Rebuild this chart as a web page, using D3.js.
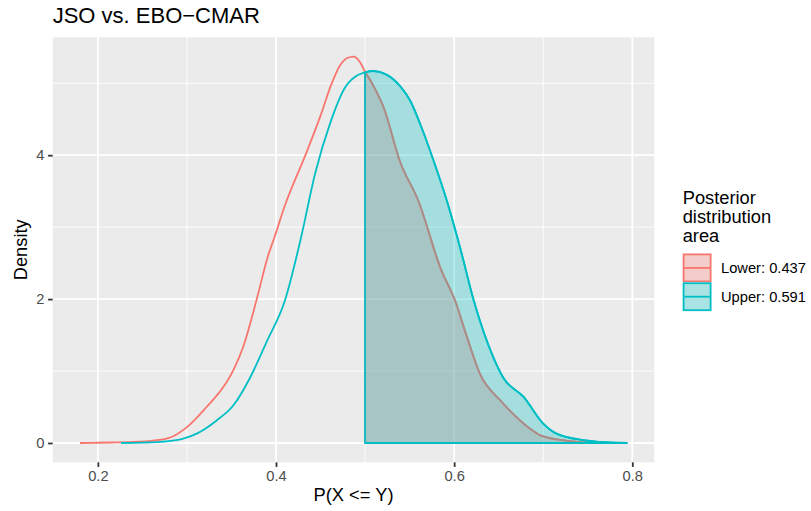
<!DOCTYPE html>
<html>
<head>
<meta charset="utf-8">
<script src="https://cdn.jsdelivr.net/npm/d3@7"></script>
<style>
  html, body { margin: 0; padding: 0; background: #ffffff; }
  svg { display: block; font-family: "Liberation Sans", Arial, Helvetica, sans-serif; }
</style>
</head>
<body>
<svg id="chart" width="811" height="511"></svg>
<script>
// ---- data ----
const titleText = "JSO vs. EBO\u2212CMAR";
const xLabel = "P(X <= Y)";
const yLabel = "Density";
const legendTitle = ["Posterior", "distribution", "area"];
const seriesNames = ["Lower: 0.437", "Upper: 0.591"];
const seriesColors = ["#F8766D", "#00BFC4"];
const threshold = 0.5;

const xLower = [0.180,0.200,0.220,0.240,0.260,0.280,0.300,0.322,0.341,0.352,0.363,0.378,0.391,0.398,0.410,0.433,0.450,0.462,0.472,0.480,0.487,0.494,0.500,0.510,0.521,0.539,0.560,0.585,0.601,0.615,0.629,0.652,0.670,0.685,0.697,0.727,0.760,0.794];
const yLower = [0,0.003,0.008,0.015,0.03,0.07,0.22,0.50,0.78,1.01,1.33,1.98,2.60,2.85,3.30,4.00,4.55,4.98,5.25,5.35,5.37,5.30,5.16,4.95,4.66,3.92,3.36,2.42,1.98,1.45,0.96,0.59,0.36,0.20,0.105,0.03,0.005,0];

const xUpper = [0.226,0.250,0.270,0.296,0.311,0.333,0.352,0.371,0.390,0.410,0.428,0.444,0.4615,0.477,0.490,0.500,0.509,0.524,0.540,0.551,0.562,0.577,0.592,0.607,0.622,0.644,0.655,0.678,0.700,0.715,0.745,0.770,0.794];
const yUpper = [0,0.005,0.015,0.06,0.13,0.31,0.52,0.91,1.42,1.98,2.85,3.75,4.47,4.93,5.10,5.15,5.17,5.12,4.95,4.75,4.43,3.92,3.36,2.70,1.98,1.19,0.91,0.64,0.27,0.13,0.04,0.01,0];

const xTicks = [0.2, 0.4, 0.6, 0.8];
const xMinor = [0.3, 0.5, 0.7];
const yTicks = [0, 2, 4];
const yMinor = [1, 3, 5];

// ---- layout ----
const svg = d3.select("#chart");
const panel = { left: 52.7, right: 654.3, top: 37.3, bottom: 462.3 };

const series = [
  { name: seriesNames[0], color: seriesColors[0], pts: xLower.map((x, i) => ({ x, y: yLower[i] })) },
  { name: seriesNames[1], color: seriesColors[1], pts: xUpper.map((x, i) => ({ x, y: yUpper[i] })) }
];

const allX = xLower.concat(xUpper), allY = yLower.concat(yUpper);
const [xmin, xmax] = d3.extent(allX);
const [ymin, ymax] = d3.extent(allY);
const xpad = (xmax - xmin) * 0.05, ypad = (ymax - ymin) * 0.05;
const x = d3.scaleLinear().domain([xmin - xpad, xmax + xpad]).range([panel.left, panel.right]);
const y = d3.scaleLinear().domain([ymin - ypad, ymax + ypad]).range([panel.bottom, panel.top]);

// panel background
svg.append("rect").attr("x", panel.left).attr("y", panel.top)
  .attr("width", panel.right - panel.left).attr("height", panel.bottom - panel.top)
  .attr("fill", "#EBEBEB");

const grid = svg.append("g");
grid.selectAll(".xminor").data(xMinor).enter().append("line")
  .attr("x1", d => x(d)).attr("x2", d => x(d)).attr("y1", panel.top).attr("y2", panel.bottom)
  .attr("stroke", "#fff").attr("stroke-width", 0.9);
grid.selectAll(".yminor").data(yMinor).enter().append("line")
  .attr("y1", d => y(d)).attr("y2", d => y(d)).attr("x1", panel.left).attr("x2", panel.right)
  .attr("stroke", "#fff").attr("stroke-width", 0.9);
grid.selectAll(".xmajor").data(xTicks).enter().append("line")
  .attr("x1", d => x(d)).attr("x2", d => x(d)).attr("y1", panel.top).attr("y2", panel.bottom)
  .attr("stroke", "#fff").attr("stroke-width", 1.8);
grid.selectAll(".ymajor").data(yTicks).enter().append("line")
  .attr("y1", d => y(d)).attr("y2", d => y(d)).attr("x1", panel.left).attr("x2", panel.right)
  .attr("stroke", "#fff").attr("stroke-width", 1.8);

// curves
const line = d3.line().x(d => x(d.x)).y(d => y(d.y)).curve(d3.curveMonotoneX);
const area = d3.area().x(d => x(d.x)).y0(y(0)).y1(d => y(d.y)).curve(d3.curveMonotoneX);

const plot = svg.append("g");
series.forEach(s => {
  plot.append("path").attr("d", line(s.pts))
    .attr("fill", "none").attr("stroke", s.color).attr("stroke-width", 1.8)
    .attr("stroke-linejoin", "round");
  const sub = s.pts.filter(p => p.x >= threshold);
  plot.append("path").attr("d", area(sub) )
    .attr("fill", s.color).attr("fill-opacity", 0.3)
    .attr("stroke", s.color).attr("stroke-width", 1.8).attr("stroke-linejoin", "round");
});

// axes
const axisColor = "#333333", tickText = "#4D4D4D";
const xAxis = d3.axisBottom(x).tickValues(xTicks).tickFormat(d3.format(".1f")).tickSizeOuter(0).tickSizeInner(4.6).tickPadding(3.2);
const gx = svg.append("g").attr("transform", `translate(0,${panel.bottom})`).call(xAxis);
gx.select(".domain").remove();
gx.selectAll(".tick line").attr("stroke", axisColor).attr("stroke-width", 1.8);
gx.selectAll(".tick text").attr("fill", tickText).attr("font-size", "14.7px")
  .attr("font-family", "Liberation Sans, Arial, sans-serif");

const yAxis = d3.axisLeft(y).tickValues(yTicks).tickFormat(d3.format("d")).tickSizeOuter(0).tickSizeInner(4.6).tickPadding(3.6);
const gy = svg.append("g").attr("transform", `translate(${panel.left},0)`).call(yAxis);
gy.select(".domain").remove();
gy.selectAll(".tick line").attr("stroke", axisColor).attr("stroke-width", 1.8);
gy.selectAll(".tick text").attr("fill", tickText).attr("font-size", "14.7px")
  .attr("font-family", "Liberation Sans, Arial, sans-serif");

// titles
svg.append("text").attr("x", panel.left).attr("y", 22.7)
  .attr("font-size", "22px").attr("fill", "#000").text(titleText);
svg.append("text").attr("x", (panel.left + panel.right) / 2).attr("y", 501)
  .attr("text-anchor", "middle").attr("font-size", "18.3px").attr("fill", "#000").text(xLabel);
svg.append("text").attr("transform", `translate(27,${(panel.top + panel.bottom) / 2}) rotate(-90)`)
  .attr("text-anchor", "middle").attr("font-size", "18.3px").attr("fill", "#000").text(yLabel);

// legend
const lg = svg.append("g");
const lgX = 682.7, titleBase = [203.5, 222.8, 242];
legendTitle.forEach((t, i) => {
  lg.append("text").attr("x", lgX).attr("y", titleBase[i]).attr("font-size", "18.3px").attr("fill", "#000").text(t);
});
const keySize = 28.8, keyTop = 253.5;
series.forEach((s, i) => {
  const ky = keyTop + i * keySize;
  lg.append("rect").attr("x", lgX).attr("y", ky).attr("width", keySize).attr("height", keySize).attr("fill", "#F2F2F2");
  lg.append("rect").attr("x", lgX + 0.9).attr("y", ky + 0.9).attr("width", keySize - 1.8).attr("height", keySize - 1.8)
    .attr("fill", s.color).attr("fill-opacity", 0.3).attr("stroke", s.color).attr("stroke-width", 1.8);
  lg.append("line").attr("x1", lgX + 1.5).attr("x2", lgX + keySize - 1.5).attr("y1", ky + keySize / 2).attr("y2", ky + keySize / 2)
    .attr("stroke", s.color).attr("stroke-width", 1.8);
  lg.append("text").attr("x", 721).attr("y", ky + keySize / 2).attr("dy", "0.36em")
    .attr("font-size", "14.7px").attr("fill", "#000").text(s.name);
});
</script>
</body>
</html>
